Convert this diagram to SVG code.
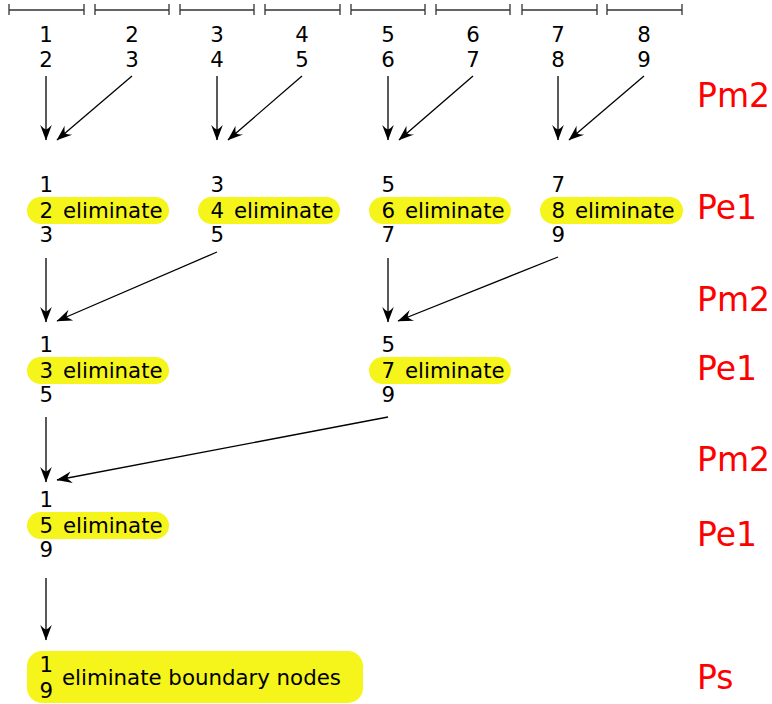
<svg xmlns="http://www.w3.org/2000/svg" width="772" height="704" viewBox="0 0 772 704">
<style>
.t{font-family:"DejaVu Sans",sans-serif;font-size:21.3px;fill:#000}
.m{text-anchor:middle}
.r{font-family:"DejaVu Sans",sans-serif;font-size:33px;fill:#ff0000}
.pill{fill:#f5f51b}
.bar{stroke:#333;stroke-width:1.3;fill:none}
.c{stroke:#000;stroke-width:1.3;fill:none;marker-end:url(#ah)}
</style>
<defs>
<marker id="ah" markerUnits="userSpaceOnUse" viewBox="-16 -7 17 14" refX="0" refY="0" markerWidth="17" markerHeight="14" orient="auto">
<path d="M0.5,0 L-15,-5.8 Q-11,-1.8 -10.5,0 Q-11,1.8 -15,5.8 Z" fill="#000"/>
</marker>
</defs>
<g id="scale">
<path class="bar" d="M9,10H84M9,4V15M84,4V15"/>
<path class="bar" d="M95,10H169M95,4V15M169,4V15"/>
<path class="bar" d="M180,10H254M180,4V15M254,4V15"/>
<path class="bar" d="M265,10H340M265,4V15M340,4V15"/>
<path class="bar" d="M351,10H425M351,4V15M425,4V15"/>
<path class="bar" d="M436,10H510M436,4V15M510,4V15"/>
<path class="bar" d="M522,10H597M522,4V15M597,4V15"/>
<path class="bar" d="M607,10H682M607,4V15M682,4V15"/>
</g>
<g id="top1" class="t m"><text x="46" y="42">1</text><text x="46" y="67">2</text></g>
<g id="top2" class="t m"><text x="132" y="42">2</text><text x="132" y="67">3</text></g>
<g id="top3" class="t m"><text x="217" y="42">3</text><text x="217" y="67">4</text></g>
<g id="top4" class="t m"><text x="302" y="42">4</text><text x="302" y="67">5</text></g>
<g id="top5" class="t m"><text x="388" y="42">5</text><text x="388" y="67">6</text></g>
<g id="top6" class="t m"><text x="473" y="42">6</text><text x="473" y="67">7</text></g>
<g id="top7" class="t m"><text x="558" y="42">7</text><text x="558" y="67">8</text></g>
<g id="top8" class="t m"><text x="644" y="42">8</text><text x="644" y="67">9</text></g>

<g id="e1a"><rect class="pill" x="27" y="197" width="142" height="27" rx="13.5"/>
<text class="t" x="39.5" y="192">1</text><text class="t" x="39.5" y="218">2 <tspan x="63">eliminate</tspan></text><text class="t" x="39.5" y="242">3</text></g>
<g id="e1b"><rect class="pill" x="198" y="197" width="142" height="27" rx="13.5"/>
<text class="t" x="210.5" y="192">3</text><text class="t" x="210.5" y="218">4 <tspan x="234">eliminate</tspan></text><text class="t" x="210.5" y="242">5</text></g>
<g id="e1c"><rect class="pill" x="369" y="197" width="142" height="27" rx="13.5"/>
<text class="t" x="381.5" y="192">5</text><text class="t" x="381.5" y="218">6 <tspan x="405">eliminate</tspan></text><text class="t" x="381.5" y="242">7</text></g>
<g id="e1d"><rect class="pill" x="540" y="197" width="143" height="27" rx="13.5"/>
<text class="t" x="551.5" y="192">7</text><text class="t" x="551.5" y="218">8 <tspan x="575">eliminate</tspan></text><text class="t" x="551.5" y="242">9</text></g>

<g id="e2a"><rect class="pill" x="27" y="357" width="142" height="27" rx="13.5"/>
<text class="t" x="39.5" y="352">1</text><text class="t" x="39.5" y="378">3 <tspan x="63">eliminate</tspan></text><text class="t" x="39.5" y="402">5</text></g>
<g id="e2b"><rect class="pill" x="369" y="357" width="142" height="27" rx="13.5"/>
<text class="t" x="381.5" y="352">5</text><text class="t" x="381.5" y="378">7 <tspan x="405">eliminate</tspan></text><text class="t" x="381.5" y="402">9</text></g>

<g id="e3"><rect class="pill" x="27" y="512" width="142" height="27" rx="13.5"/>
<text class="t" x="39.5" y="507">1</text><text class="t" x="39.5" y="533">5 <tspan x="63">eliminate</tspan></text><text class="t" x="39.5" y="557">9</text></g>

<g id="ps"><rect class="pill" x="27" y="651" width="336" height="52" rx="15"/>
<text class="t" x="39.5" y="672">1</text><text class="t" x="39.5" y="698">9</text>
<text class="t" x="62" y="685">eliminate boundary nodes</text></g>

<g id="labels" class="r">
<text x="697" y="107">Pm2</text>
<text x="697" y="219">Pe1</text>
<text x="697" y="311">Pm2</text>
<text x="697" y="380">Pe1</text>
<text x="697" y="471">Pm2</text>
<text x="697" y="546">Pe1</text>
<text x="697" y="689">Ps</text>
</g>

<g id="connectors">
<path class="c" d="M46,76V140"/>
<path class="c" d="M132,76L57,140"/>
<path class="c" d="M217,76V140"/>
<path class="c" d="M302,76L228,140"/>
<path class="c" d="M388,76V140"/>
<path class="c" d="M473,76L399,140"/>
<path class="c" d="M558,76V140"/>
<path class="c" d="M644,76L569,140"/>
<path class="c" d="M46,258V322"/>
<path class="c" d="M217,252L57,321"/>
<path class="c" d="M388,258V322"/>
<path class="c" d="M558,257L398,321"/>
<path class="c" d="M46,417V482"/>
<path class="c" d="M388,417L57,480"/>
<path class="c" d="M46,578V640"/>
</g>
</svg>
